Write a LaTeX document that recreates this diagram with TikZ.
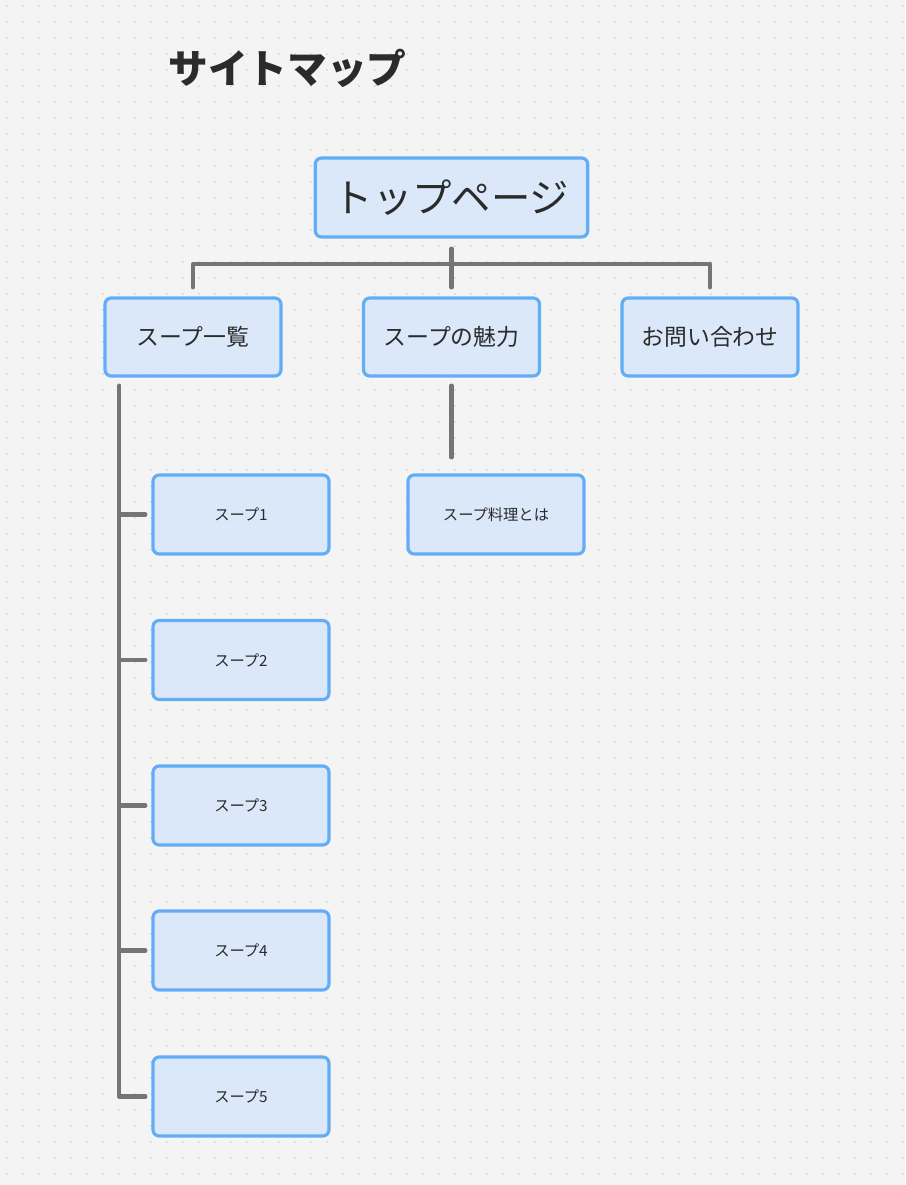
\documentclass[tikz,border=0pt]{standalone}
\usepackage{fontspec}
\setmainfont{Noto Sans CJK JP}
\usepackage{tikz}
\usetikzlibrary{calc}
\definecolor{bgc}{HTML}{F4F4F4}
\definecolor{dotc}{HTML}{CACACA}
\definecolor{boxfill}{HTML}{D6E7FA}
\definecolor{boxline}{HTML}{62ADF6}
\definecolor{linec}{HTML}{757575}
\definecolor{txtc}{HTML}{2B2B2B}

\begin{document}
\begin{tikzpicture}[x=0.02cm,y=-0.02cm,line cap=round,line join=round,
  page/.style={draw=boxline,line width=1.8pt,rounded corners=3.5pt,fill=boxfill,fill opacity=0.85,text opacity=1,text=txtc,inner sep=0pt},
  toppage/.style={page,minimum width=5.45cm,minimum height=1.58cm,font=\fontsize{22.4}{24}\selectfont},
  mainpage/.style={page,minimum width=3.52cm,minimum height=1.56cm,font=\fontsize{13}{15}\selectfont},
  subpage/.style={page,minimum width=3.52cm,minimum height=1.58cm,font=\fontsize{8.7}{10}\selectfont},
  conn/.style={draw=linec,line width=2.3pt}]
\useasboundingbox[fill=bgc] (0,0) rectangle (905,1185);
% dot grid
\foreach \i in {0,...,56}
  \foreach \j in {0,...,73}
    \fill[dotc] (7+16*\i,6+16*\j) circle (0.9);
% title
\node[text=txtc,font=\fontsize{22.6}{25}\selectfont\bfseries] (title) at (287.5,68) {サイトマップ};
% pages
\node[toppage] (top) at (451.5,197.5) {トップページ};
\node[mainpage] (list) at (193,337) {スープ一覧};
\node[mainpage] (charm) at (451.5,337) {スープの魅力};
\node[mainpage] (contact) at (710,337) {お問い合わせ};
\node[subpage] (s1) at (241,514.5) {スープ1};
\node[subpage] (s2) at (241,660) {スープ2};
\node[subpage] (s3) at (241,805.5) {スープ3};
\node[subpage] (s4) at (241,950.5) {スープ4};
\node[subpage] (s5) at (241,1096.5) {スープ5};
\node[subpage] (dish) at (496,514.5) {スープ料理とは};
% connectors
\coordinate (bar) at ($(top.south)+(0,25)$);
\draw[conn] ($(top.south)+(0,10)$) -- (bar);
\draw[conn] ($(list.north)+(0,-9)$) -- (list |- bar) -- (contact |- bar) -- ($(contact.north)+(0,-9)$);
\draw[conn] (charm.north |- bar) -- ($(charm.north)+(0,-9)$);
\draw[conn] ($(charm.south)+(0,8)$) -- ($(dish.north -| charm.south)+(0,-16)$);
\coordinate (trunk) at ($(list.south west)+(16,8)$);
\draw[conn] (trunk) |- ($(s5.west)+(-6,0)$);
\foreach \i in {1,...,4}
  \draw[conn] (trunk |- s\i.west) -- ($(s\i.west)+(-6,0)$);
\end{tikzpicture}
\end{document}
